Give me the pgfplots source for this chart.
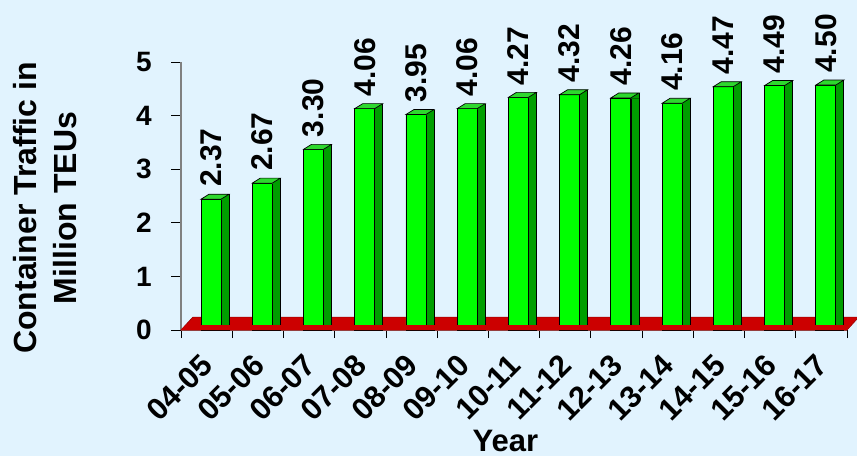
\documentclass[border=0pt]{standalone}
\usepackage{fontspec}
\setmainfont{Liberation Sans}
\usepackage{pgfplots}
\pgfplotsset{compat=1.18}
\usepackage{pgfplotstable}
\definecolor{bgcol}{HTML}{E1F3FE}
\definecolor{frontg}{HTML}{00FF00}
\definecolor{sideg}{HTML}{009E00}
\definecolor{topg}{HTML}{2ED82E}
\definecolor{floorred}{HTML}{CC0000}
\definecolor{axgray}{HTML}{808080}

\pgfplotstableread{
x y lab
0 2.37 2.37
1 2.67 2.67
2 3.30 3.30
3 4.06 4.06
4 3.95 3.95
5 4.06 4.06
6 4.27 4.27
7 4.32 4.32
8 4.26 4.26
9 4.16 4.16
10 4.47 4.47
11 4.49 4.49
12 4.50 4.50
}\datatab

\pgfdeclareplotmark{bartop}{%
  % side triangle
  \pgfpathmoveto{\pgfqpoint{14.4bp}{-0.8bp}}%
  \pgfpathlineto{\pgfqpoint{22.4bp}{-0.8bp}}%
  \pgfpathlineto{\pgfqpoint{22.4bp}{5bp}}%
  \pgfpathlineto{\pgfqpoint{14.4bp}{0bp}}%
  \pgfpathclose
  \pgfsetfillcolor{sideg}%
  \pgfusepath{fill}%
  % top face
  \pgfpathmoveto{\pgfqpoint{-5.6bp}{0bp}}%
  \pgfpathlineto{\pgfqpoint{14.4bp}{0bp}}%
  \pgfpathlineto{\pgfqpoint{22.4bp}{5bp}}%
  \pgfpathlineto{\pgfqpoint{2.4bp}{5bp}}%
  \pgfpathclose
  \pgfsetfillcolor{topg}%
  \pgfusepath{fill,stroke}%
  % right vertical edge
  \pgfpathmoveto{\pgfqpoint{22.4bp}{5bp}}%
  \pgfpathlineto{\pgfqpoint{22.4bp}{-1bp}}%
  \pgfusepath{stroke}%
}

\begin{document}
\begin{tikzpicture}
\fill[bgcol] (0,0) rectangle (857bp,456bp);
\useasboundingbox (0,0) rectangle (857bp,456bp);
\begin{axis}[
  at={(181bp,126bp)}, anchor=south west,
  scale only axis, width=666bp, height=268bp,
  xmin=-0.5, xmax=12.5, ymin=0, ymax=5,
  clip=false,
  axis x line*=bottom, axis y line*=left,
  axis line style={draw=axgray, line width=1.5bp},
  xtick={0,...,12},
  xticklabels={04-05,05-06,06-07,07-08,08-09,09-10,10-11,11-12,12-13,13-14,14-15,15-16,16-17},
  minor xtick={-0.5,0.5,...,12.5},
  ytick={0,1,2,3,4,5},
  tick align=outside,
  major tick length=10bp, minor tick length=8bp,
  every major x tick/.append style={draw=none},
  every tick/.append style={black, line width=0.8bp},
  /pgf/number format/assume math mode=true,
  yticklabel style={font=\fontsize{28bp}{28bp}\selectfont\bfseries, inner sep=0pt, anchor=east, xshift=-19bp},
  xticklabel style={font=\fontsize{30.5bp}{30.5bp}\selectfont\bfseries, inner sep=0pt, xshift=1bp, yshift=-20bp, rotate=45, anchor=east},
  xlabel={Year},
  xlabel style={font=\fontsize{31bp}{31bp}\selectfont\bfseries, at={(axis description cs:0.487,-0.455)}, anchor=base, inner sep=0pt},
  ylabel={Container Traffic in\\Million TEUs},
  ylabel style={font=\fontsize{32bp}{40bp}\selectfont\bfseries, align=center, at={(axis description cs:-0.2035,0.455)}, anchor=center},
]
% floor
\addplot[fill=floorred, draw=floorred!75!black, line width=0.6bp] coordinates {(-0.5,0) (12.5,0) (12.73,0.24) (-0.27,0.24)} -- cycle;
% side faces
\addplot[ybar, bar width=8bp, bar shift=18.4bp, fill=sideg, draw=black, line width=0.7bp]
  table[x=x, y expr=\thisrow{y}+0.07] {\datatab};
% front faces
\addplot[ybar, bar width=20bp, bar shift=4.4bp, fill=frontg, draw=black, line width=0.8bp]
  table[x=x, y expr=\thisrow{y}+0.07] {\datatab};
% top faces and value labels
\addplot[only marks, mark=bartop, mark options={draw=black, line width=0.7bp},
  point meta=explicit symbolic, nodes near coords,
  every node near coord/.append style={xshift=4.4bp, rotate=90, anchor=west, inner xsep=12bp, inner ysep=0pt, font=\fontsize{30bp}{30bp}\selectfont\bfseries, text=black}]
  table[x=x, y expr=\thisrow{y}+0.07, meta=lab] {\datatab};
% front strip of floor
\addplot[fill=floorred, draw=none] coordinates {(-0.5,0) (12.5,0) (12.58,0.09) (-0.41,0.09)} -- cycle;
\end{axis}
\end{tikzpicture}
\end{document}
